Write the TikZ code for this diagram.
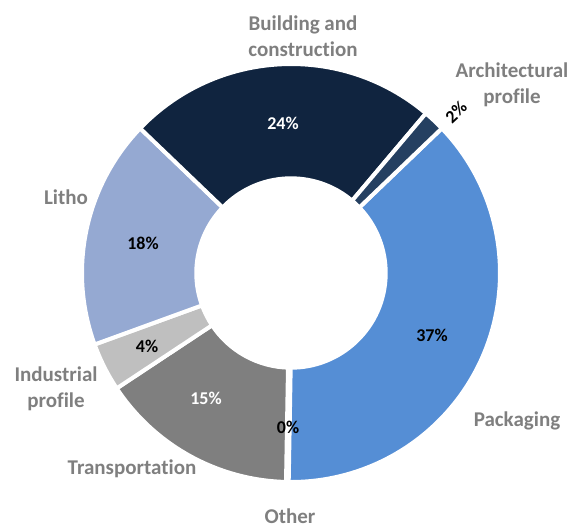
\documentclass[tikz,border=0pt]{standalone}
\usepackage{fontspec}
\setmainfont{Carlito}[Ligatures=NoCommon]
\definecolor{cBuild}{HTML}{10243F}
\definecolor{cArch}{HTML}{254061}
\definecolor{cPack}{HTML}{558ED5}
\definecolor{cLitho}{HTML}{95A9D2}
\definecolor{cInd}{HTML}{BFBFBF}
\definecolor{cTrans}{HTML}{7F7F7F}
\definecolor{cLabel}{HTML}{7F7F7F}
\newcommand\Rout{209}
\newcommand\Rin{94.7}
\newcommand\donutsector[3]{%
  \filldraw[fill=#1,draw=white,line width=3pt,line join=round]
    ([shift={(#2:\Rout)}]O) arc[start angle=#2,end angle=#3,radius=\Rout]
    -- ([shift={(#3:\Rin)}]O) arc[start angle=#3,end angle=#2,radius=\Rin] -- cycle;}
\begin{document}
\begin{tikzpicture}[x=0.75pt,y=0.75pt,
  catlabel/.style={text=cLabel,font=\fontsize{15.75pt}{19.5pt}\selectfont\bfseries,align=center,inner sep=0pt},
  pctlabel/.style={font=\fontsize{13.5pt}{16pt}\selectfont\bfseries,inner sep=0pt}]
\useasboundingbox (0,0) rectangle (572,-526);
\coordinate (O) at (291,-273);
% sectors
\donutsector{cPack}{43.8}{-91}
\donutsector{cTrans}{-91}{-146.5}
\donutsector{cInd}{-146.5}{-160}
\donutsector{cLitho}{-160}{-223.8}
\donutsector{cBuild}{-223.8}{-310.2}
\donutsector{cArch}{49.8}{43.8}
% zero slice (Other)
\draw[white,line width=5pt] ([shift={(-91:\Rin-2)}]O) -- ([shift={(-91:\Rout+2)}]O);
% percentage labels
\node[pctlabel,text=white] (p24) at (283,-123) {24\%};
\node[pctlabel] (p18) at (143,-243) {18\%};
\node[pctlabel] (p4) at (147,-346) {4\%};
\node[pctlabel,text=white] (p15) at (206,-398) {15\%};
\node[pctlabel] (p0) at (288,-427) {0\%};
\node[pctlabel] (p37) at (432,-335) {37\%};
\node[pctlabel,rotate=43] (p2) at (456,-112) {2\%};
% category labels
\node[catlabel] (lbuild) at (303,-36) {Building and\\construction};
\node[catlabel] (larch) at (512,-85) {Architectural\\profile};
\node[catlabel] (llitho) at (66,-197) {Litho};
\node[catlabel] (lind) at (56,-389) {Industrial\\profile};
\node[catlabel] (ltrans) at (132,-469) {Transportation};
\node[catlabel] (lother) at (290,-516) {Other};
\node[catlabel] (lpack) at (517,-421) {Packaging};
\end{tikzpicture}
\end{document}
